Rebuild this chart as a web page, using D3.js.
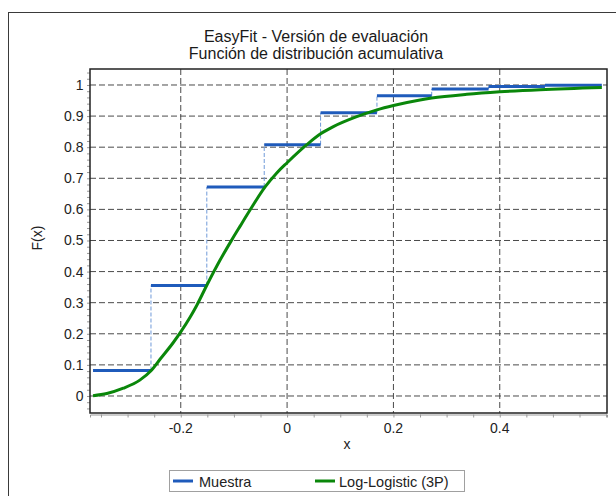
<!DOCTYPE html>
<html><head><meta charset="utf-8">
<script src="https://cdn.jsdelivr.net/npm/d3@7"></script>
<style>
html,body{margin:0;padding:0;background:#fff;}
svg{display:block;font-family:"Liberation Sans",Arial,sans-serif;}
</style></head>
<body>
<svg id="c" width="616" height="496"></svg>
<script>
// ---- data ----
const titleLines = ["EasyFit - Versión de evaluación", "Función de distribución acumulativa"];
const xLabel = "x";
const yLabel = "F(x)";
const seriesNames = ["Muestra", "Log-Logistic (3P)"];
const stepEdges = [-0.365, -0.256, -0.151, -0.043, 0.063, 0.169, 0.272, 0.379, 0.485, 0.592];
const stepLevels = [0.082, 0.355, 0.672, 0.808, 0.911, 0.965, 0.987, 0.995, 0.999];
const fitX = [-0.365, -0.339, -0.308, -0.277, -0.256, -0.239, -0.214, -0.200, -0.1825, -0.170, -0.151, -0.126, -0.104, -0.088, -0.070, -0.041, -0.019, 0.000, 0.037, 0.063, 0.087, 0.131, 0.169, 0.200, 0.250, 0.272, 0.338, 0.400, 0.476, 0.592];
const fitY = [0.001, 0.008, 0.025, 0.051, 0.081, 0.118, 0.172, 0.206, 0.253, 0.291, 0.356, 0.437, 0.502, 0.547, 0.597, 0.673, 0.718, 0.750, 0.808, 0.843, 0.866, 0.898, 0.920, 0.934, 0.952, 0.958, 0.970, 0.978, 0.985, 0.992];
const xTicks = [-0.2, 0, 0.2, 0.4];
const yTicks = [0, 0.1, 0.2, 0.3, 0.4, 0.5, 0.6, 0.7, 0.8, 0.9, 1];

// ---- layout ----
const svg = d3.select("#c");
const L = 90, T = 69, R = 607, B = 413;
const x = d3.scaleLinear().domain([-0.3707, 0.6017]).range([L, R]);
const y = d3.scaleLinear().domain([-0.0547, 1.0514]).range([B, T]);
const blue = "#1f5bbb", green = "#0a870a", connector = "#6f9ad9";
const fmt = d => String(Math.round(d * 10) / 10);

// outer frame
svg.append("rect").attr("x", 8.5).attr("y", 12.5).attr("width", 640).attr("height", 520)
  .attr("fill", "#fff").attr("stroke", "#3a3a3a").attr("stroke-width", 1);

// titles
svg.append("g").selectAll("text").data(titleLines).join("text")
  .attr("x", 316).attr("y", (d, i) => 42 + i * 17)
  .attr("text-anchor", "middle").attr("font-size", 16).attr("fill", "#1a1a1a")
  .text(d => d);

// clip
svg.append("clipPath").attr("id", "clip").append("rect")
  .attr("x", L).attr("y", T).attr("width", R - L).attr("height", B - T);

// grid
const grid = svg.append("g").attr("stroke", "#4a4a4a").attr("stroke-width", 1).attr("stroke-dasharray", "6,3");
grid.selectAll("line.h").data(yTicks).join("line").attr("class", "h")
  .attr("x1", L).attr("x2", R).attr("y1", d => y(d)).attr("y2", d => y(d));
grid.selectAll("line.v").data(xTicks).join("line").attr("class", "v")
  .attr("y1", T).attr("y2", B).attr("x1", d => x(d)).attr("x2", d => x(d));

// axes (minor ticks + labels)
const xMinor = d3.range(-0.35, 0.6001, 0.05);
const yMinor = d3.range(-0.04, 1.0401, 0.02);
const xAxis = d3.axisBottom(x).tickValues(xMinor).tickSize(3).tickFormat("");
const yAxis = d3.axisLeft(y).tickValues(yMinor).tickSize(3).tickFormat("");
const gx = svg.append("g").attr("transform", `translate(0,${B + 1.5})`).call(xAxis);
const gy = svg.append("g").attr("transform", `translate(${L},0)`).call(yAxis);
[gx, gy].forEach(g => {
  g.select(".domain").attr("stroke", "#999");
  g.selectAll(".tick line").attr("stroke", "#999");
});
gy.select(".domain").remove();

svg.append("g").selectAll("text").data(xTicks).join("text")
  .attr("x", d => x(d)).attr("y", 432.5).attr("text-anchor", "middle")
  .attr("font-size", 14).attr("fill", "#222")
  .text(fmt);
svg.append("g").selectAll("text").data(yTicks).join("text")
  .attr("x", 83.5).attr("y", d => y(d) + 5).attr("text-anchor", "end")
  .attr("font-size", 14).attr("fill", "#222")
  .text(fmt);

// axis titles
svg.append("text").attr("x", 347).attr("y", 449).attr("text-anchor", "middle")
  .attr("font-size", 14).attr("fill", "#222").text(xLabel);
svg.append("text").attr("transform", "translate(41.5,238) rotate(-90)")
  .attr("text-anchor", "middle").attr("font-size", 14).attr("fill", "#222").text(yLabel);

// series
const plot = svg.append("g").attr("clip-path", "url(#clip)");
const conn = d3.range(1, stepLevels.length).map(i => ({x: stepEdges[i], y0: stepLevels[i - 1], y1: stepLevels[i]}));
plot.selectAll("line.conn").data(conn).join("line").attr("class", "conn")
  .attr("x1", d => x(d.x)).attr("x2", d => x(d.x))
  .attr("y1", d => y(d.y0)).attr("y2", d => y(d.y1))
  .attr("stroke", connector).attr("stroke-width", 1).attr("stroke-dasharray", "4,2");
const segs = stepLevels.map((v, i) => ({x0: stepEdges[i], x1: stepEdges[i + 1], v}));
plot.selectAll("line.seg").data(segs).join("line").attr("class", "seg")
  .attr("x1", d => x(d.x0)).attr("x2", d => x(d.x1))
  .attr("y1", d => y(d.v)).attr("y2", d => y(d.v))
  .attr("stroke", blue).attr("stroke-width", 3);

const fitPts = fitX.map((v, i) => [v, fitY[i]]);
plot.append("path").datum(fitPts)
  .attr("d", d3.line().x(d => x(d[0])).y(d => y(d[1])).curve(d3.curveMonotoneX))
  .attr("fill", "none").attr("stroke", green).attr("stroke-width", 3).attr("stroke-linejoin", "round");

// plot frame
svg.append("rect").attr("x", L).attr("y", T).attr("width", R - L).attr("height", B - T)
  .attr("fill", "none").attr("stroke", "#222").attr("stroke-width", 1.5);

// legend
const lg = svg.append("g");
lg.append("rect").attr("x", 169.5).attr("y", 470.5).attr("width", 295).attr("height", 21)
  .attr("fill", "#fff").attr("stroke", "#a0a0a0").attr("stroke-width", 1);
const legItems = [{name: seriesNames[0], color: blue, lx: 173, tx: 199}, {name: seriesNames[1], color: green, lx: 315, tx: 339}];
legItems.forEach(it => {
  lg.append("line").attr("x1", it.lx).attr("x2", it.lx + 20).attr("y1", 481).attr("y2", 481)
    .attr("stroke", it.color).attr("stroke-width", 3);
  lg.append("text").attr("x", it.tx).attr("y", 486.5).attr("font-size", 14.5).attr("fill", "#222").text(it.name);
});
</script>
</body></html>
